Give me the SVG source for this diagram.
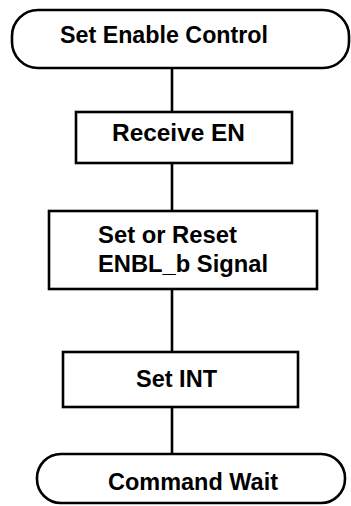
<svg xmlns="http://www.w3.org/2000/svg" width="351" height="506" viewBox="0 0 351 506">
<style>
.box{fill:#fff;stroke:#000;stroke-width:2.6}
.t{font-family:"Liberation Sans",Arial,sans-serif;font-weight:bold;font-size:23px;fill:#000}
.c{fill:none;stroke:#000;stroke-width:2.6}
</style>
<rect width="351" height="506" fill="#fff"/>
<g id="connectors">
<line class="c" x1="172" y1="68" x2="172" y2="112"/>
<line class="c" x1="172" y1="163" x2="172" y2="211"/>
<line class="c" x1="172" y1="289" x2="172" y2="352"/>
<line class="c" x1="172" y1="407" x2="172" y2="454"/>
</g>
<g id="start">
<rect class="box" x="12" y="10" width="337" height="58" rx="26" ry="26"/>
<text class="t" x="60" y="43" textLength="208" lengthAdjust="spacingAndGlyphs">Set Enable Control</text>
</g>
<g id="receive">
<rect class="box" x="76" y="112" width="216" height="51"/>
<text class="t" x="112" y="141" textLength="133" lengthAdjust="spacingAndGlyphs">Receive EN</text>
</g>
<g id="setreset">
<rect class="box" x="49" y="211" width="268" height="78"/>
<text class="t" x="98" y="243" textLength="139" lengthAdjust="spacingAndGlyphs">Set or Reset</text>
<text class="t" x="98" y="272" textLength="170" lengthAdjust="spacingAndGlyphs">ENBL_b Signal</text>
</g>
<g id="setint">
<rect class="box" x="63" y="352" width="235" height="55"/>
<text class="t" x="136" y="387" textLength="81" lengthAdjust="spacingAndGlyphs">Set INT</text>
</g>
<g id="end">
<rect class="box" x="37" y="454" width="308" height="49" rx="24" ry="24"/>
<text class="t" x="108" y="490" textLength="170" lengthAdjust="spacingAndGlyphs">Command Wait</text>
</g>
</svg>
